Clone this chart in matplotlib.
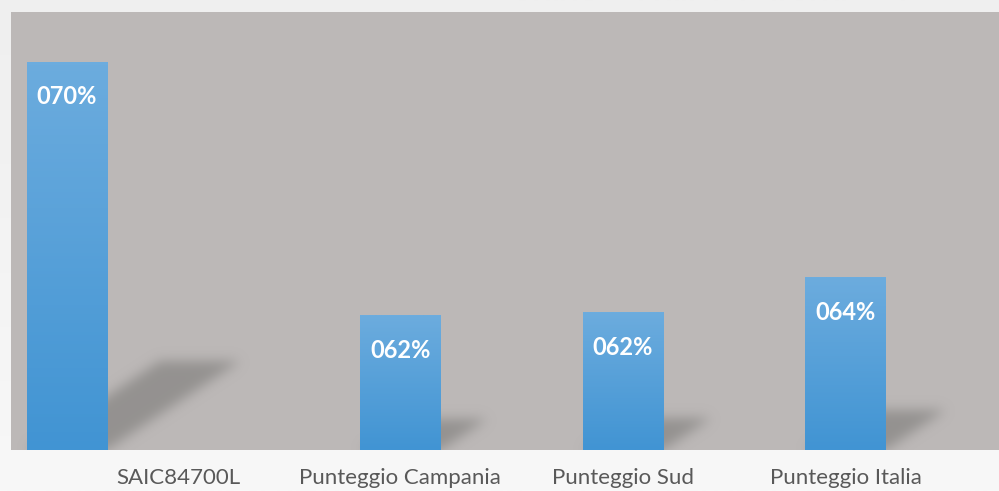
import numpy as np
import matplotlib
matplotlib.use("Agg")
import matplotlib.pyplot as plt
from matplotlib.path import Path

categories = ["SAIC84700L", "Punteggio Campania", "Punteggio Sud", "Punteggio Italia"]
scores = [70.4, 62.3, 62.4, 63.5]
# the first bar sits half a slot left of its label in the original chart
bar_shift = [-0.5, 0.0, 0.0, 0.0]

Y_MIN, Y_MAX = 58, 72
BAR_W = 0.36
PLOT_BG = "#bcb8b7"
TOP_BLUE = np.array([0x6c, 0xac, 0xde]) / 255
BOTTOM_BLUE = np.array([0x41, 0x94, 0xd3]) / 255
SHADOW_RGB = np.array([0x8a, 0x88, 0x86]) / 255

plt.rcParams["font.family"] = ["Lato", "DejaVu Sans"]


def blur(mask, sigma):
    """Separable gaussian blur with plain numpy."""
    r = int(3 * sigma)
    k = np.exp(-0.5 * (np.arange(-r, r + 1) / sigma) ** 2)
    k /= k.sum()
    out = np.apply_along_axis(lambda row: np.convolve(row, k, mode="same"), 1, mask)
    out = np.apply_along_axis(lambda col: np.convolve(col, k, mode="same"), 0, out)
    return out


fig = plt.figure(figsize=(9.99, 4.91), dpi=100)

# page background: light grey, slightly lighter towards the bottom
bg = fig.add_axes([0, 0, 1, 1], zorder=-10)
t = np.linspace(0, 1, 256)[:, None, None]
top_c = np.array([0xef, 0xef, 0xef]) / 255
bot_c = np.array([0xf8, 0xf8, 0xf8]) / 255
bg.imshow(top_c * (1 - t) + bot_c * t, aspect="auto", extent=(0, 1, 0, 1))
bg.axis("off")

ax = fig.add_axes([11 / 999, 41 / 491, 988 / 999, 438 / 491])
ax.set_facecolor(PLOT_BG)
for s in ax.spines.values():
    s.set_visible(False)

xs = np.arange(len(categories)) + np.array(bar_shift)
XLIM = (-0.75, 3.69)
ax.set_xlim(*XLIM)
ax.set_ylim(Y_MIN, Y_MAX)

# perspective shadows, rasterised and blurred
W, H = int(round(ax.bbox.width)), int(round(ax.bbox.height))
gx, gy = np.meshgrid(np.arange(W) + 0.5, np.arange(H) + 0.5)
pts = np.column_stack([gx.ravel(), gy.ravel()])
mask = np.zeros(H * W)
p0 = np.array(ax.bbox.p0)
for xi, v in zip(xs, scores):
    x0, yb = ax.transData.transform((xi - BAR_W / 2, Y_MIN)) - p0
    x1, ytop = ax.transData.transform((xi + BAR_W / 2, v)) - p0
    sh = 0.23 * (ytop - yb)
    off = 1.5 * sh
    poly = Path([(x0, yb), (x1, yb), (x1 + off, yb + sh), (x0 + off, yb + sh), (x0, yb)])
    mask = np.maximum(mask, poly.contains_points(pts).astype(float))
mask = blur(mask.reshape(H, W), 6)
shadow = np.zeros((H, W, 4))
shadow[..., :3] = SHADOW_RGB
shadow[..., 3] = mask * 0.8
ax.imshow(shadow, extent=(0, 1, 0, 1), transform=ax.transAxes, origin="lower",
          aspect="auto", zorder=1, interpolation="bilinear")

# bars with a vertical gradient
grad = np.linspace(0, 1, 128)[:, None, None]
bar_img = BOTTOM_BLUE * (1 - grad) + TOP_BLUE * grad
for xi, v in zip(xs, scores):
    ax.bar(xi, v - Y_MIN, bottom=Y_MIN, width=BAR_W, color=BOTTOM_BLUE, zorder=2)
    ax.imshow(bar_img, extent=(xi - BAR_W / 2, xi + BAR_W / 2, Y_MIN, v),
              origin="lower", aspect="auto", zorder=3)
    ax.annotate(f"{round(v):03d}%", xy=(xi, v), xytext=(0, -25), textcoords="offset points",
                ha="center", va="center", color="white", fontsize=17, fontweight="bold",
                zorder=4)

ax.set_xlim(*XLIM)
ax.set_ylim(Y_MIN, Y_MAX)
ax.set_xticks(np.arange(len(categories)), categories)
ax.set_yticks([])
ax.tick_params(axis="x", length=0, pad=13, labelsize=16, labelcolor="#595959")

fig.savefig("out.png", dpi=100)
